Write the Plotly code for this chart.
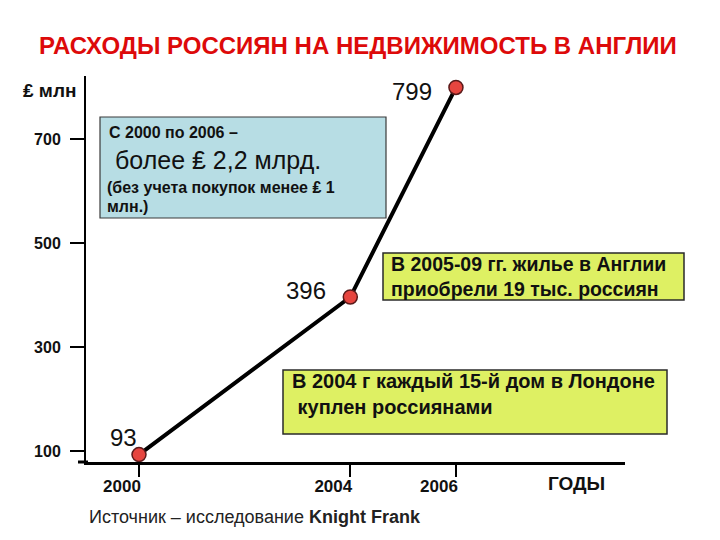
import plotly.graph_objects as go

years = [2000, 2004, 2006]
spend = [93, 396, 799]
y_ticks = [100, 300, 500, 700]
x_ticks = [2000, 2004, 2006]
x_tick_labels = ["2000", "2004", "2006"]

title = "РАСХОДЫ РОССИЯН НА НЕДВИЖИМОСТЬ В АНГЛИИ"
y_unit = "₤ млн"
x_unit = "ГОДЫ"
box1_lines = ["С 2000 по 2006 –", "более ₤ 2,2 млрд.", "(без учета покупок менее ₤ 1", "млн.)"]
box2_lines = ["В 2005-09 гг. жилье в Англии", "приобрели 19 тыс. россиян"]
box3_lines = ["В 2004 г каждый 15-й дом в Лондоне", " куплен россиянами"]
source = "Источник – исследование <b>Knight Frank</b>"

W, H = 720, 540
L, R, T, B = 86, 625, 76, 462
FONT = "Liberation Sans, Arial, sans-serif"


def px(x):
    return (x - L) / (R - L)


def py(y):
    return (B - y) / (B - T)


fig = go.Figure()
fig.add_trace(go.Scatter(
    x=years, y=spend, mode="lines+markers",
    line=dict(color="black", width=4),
    marker=dict(size=14, color="#e6453f", line=dict(color="#5a1a1a", width=1.5)),
    cliponaxis=False, showlegend=False, hoverinfo="x+y",
))

ann = []
# data labels
offsets = [(-15, 17), (-44, 7), (-44, -4)]
for (xv, yv), (dx, dy) in zip(zip(years, spend), offsets):
    ann.append(dict(x=xv, y=yv, xref="x", yref="y", text=str(yv), showarrow=False,
                    xshift=dx, yshift=dy, font=dict(family=FONT, size=24, color="#111")))

# title
ann.append(dict(x=px(358), y=py(46), xref="paper", yref="paper", text=f"<b>{title}</b>",
                showarrow=False, xanchor="center", yanchor="middle",
                font=dict(family=FONT, size=24, color="#dd0a0a")))
# units
ann.append(dict(x=px(78), y=py(90), xref="paper", yref="paper", text=f"<b>{y_unit}</b>",
                showarrow=False, xanchor="right", yanchor="middle",
                font=dict(family=FONT, size=19, color="#111")))
ann.append(dict(x=px(576), y=py(483), xref="paper", yref="paper", text=f"<b>{x_unit}</b>",
                showarrow=False, xanchor="center", yanchor="middle",
                font=dict(family=FONT, size=19, color="#111")))
# source
ann.append(dict(x=px(87), y=py(517), xref="paper", yref="paper", text=source,
                showarrow=False, xanchor="left", yanchor="middle",
                font=dict(family=FONT, size=18, color="#222")))

shapes = []
# extend x axis line left
shapes.append(dict(type="line", xref="paper", yref="paper", x0=px(78), x1=px(88), y0=0, y1=0,
                   line=dict(color="black", width=3)))
# boxes
shapes.append(dict(type="rect", xref="paper", yref="paper", x0=px(100), x1=px(386), y0=py(117), y1=py(218),
                   fillcolor="#b7dde4", line=dict(color="#3a3a3a", width=1.2), layer="below"))
shapes.append(dict(type="rect", xref="paper", yref="paper", x0=px(383), x1=px(684), y0=py(253), y1=py(300),
                   fillcolor="#def063", line=dict(color="#2a2a2a", width=1.5), layer="above"))
shapes.append(dict(type="rect", xref="paper", yref="paper", x0=px(283), x1=px(667), y0=py(370), y1=py(434),
                   fillcolor="#def063", line=dict(color="#2a2a2a", width=1.5), layer="above"))

b1 = [(box1_lines[0], 107, 132, 16, True),
      (box1_lines[1], 113, 160, 25, False),
      (box1_lines[2], 105, 187, 16, True),
      (box1_lines[3], 105, 206, 16, True)]
for t, x, y, s, b in b1:
    ann.append(dict(x=px(x), y=py(y), xref="paper", yref="paper", text=f"<b>{t}</b>" if b else t,
                    showarrow=False, xanchor="left", yanchor="middle",
                    font=dict(family=FONT, size=s, color="#111")))
ann.append(dict(x=px(389), y=py(276), xref="paper", yref="paper",
                text="<br>".join(f"<b>{t}</b>" for t in box2_lines),
                showarrow=False, xanchor="left", yanchor="middle", align="left",
                font=dict(family=FONT, size=19.5, color="#111")))
ann.append(dict(x=px(290), y=py(394), xref="paper", yref="paper",
                text="<br>".join(f"<b>{t}</b>" for t in box3_lines),
                showarrow=False, xanchor="left", yanchor="middle", align="left",
                font=dict(family=FONT, size=20, color="#111")))

fig.update_layout(
    width=W, height=H,
    margin=dict(l=L, r=W - R, t=T, b=H - B, pad=0),
    paper_bgcolor="white", plot_bgcolor="white",
    annotations=ann, shapes=shapes,
    xaxis=dict(range=[1998.997, 2009.2], tickvals=x_ticks, ticktext=x_tick_labels,
               showline=True, linecolor="black", linewidth=3, ticks="outside", ticklen=12,
               tickwidth=2, tickcolor="black", showgrid=False, zeroline=False,
               ticklabelshift=-17, ticklabelstandoff=-5,
               tickfont=dict(family=FONT, size=17, color="#111", weight="bold")),
    yaxis=dict(range=[78.8, 821], tickvals=y_ticks,
               showline=True, linecolor="black", linewidth=2, ticks="outside", ticklen=14,
               tickwidth=2, tickcolor="black", showgrid=False, zeroline=False,
               ticklabelstandoff=6,
               tickfont=dict(family=FONT, size=16, color="#111", weight="bold")),
)

fig.write_html("out.html", post_script="document.body.style.margin='0';",
               config={"displayModeBar": False})
